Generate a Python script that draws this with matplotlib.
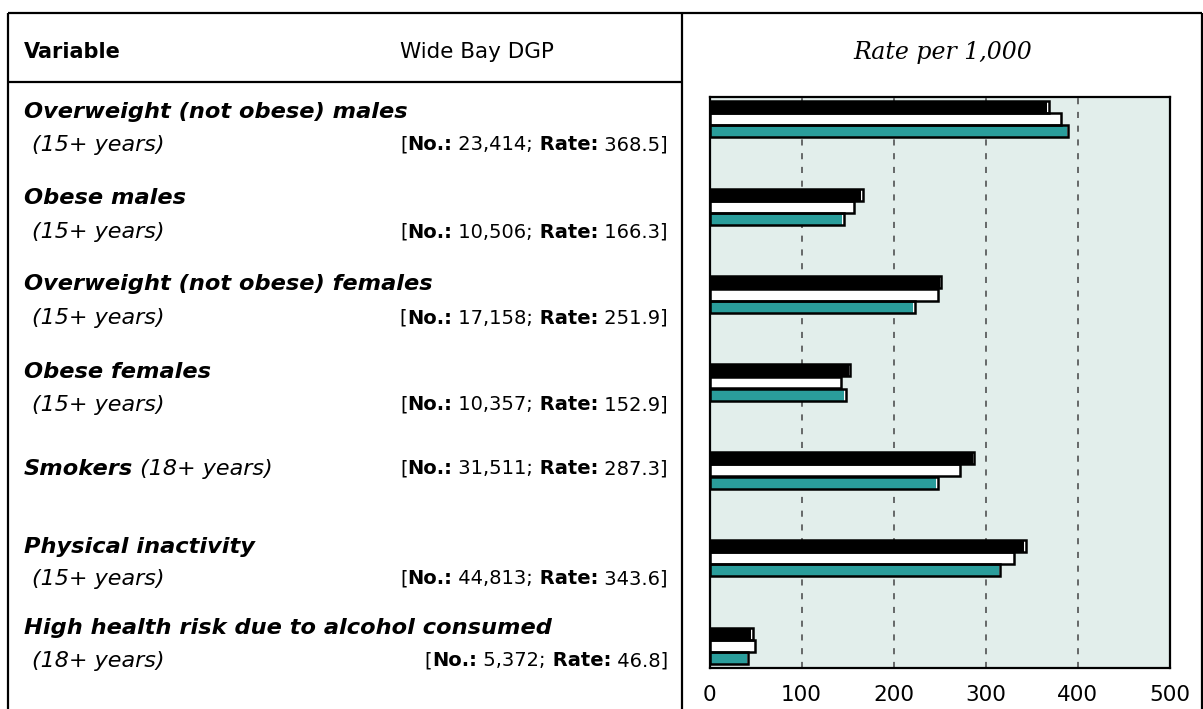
import matplotlib.pyplot as plt
from matplotlib.patches import Rectangle

# data
labels = ["Overweight (not obese) males", "Obese males", "Overweight (not obese) females",
          "Obese females", "Smokers", "Physical inactivity",
          "High health risk due to alcohol consumed"]
ages = ["(15+ years)", "(15+ years)", "(15+ years)", "(15+ years)", "(18+ years)",
        "(15+ years)", "(18+ years)"]
numbers = ["23,414", "10,506", "17,158", "10,357", "31,511", "44,813", "5,372"]
wide_bay = [368.5, 166.3, 251.9, 152.9, 287.3, 343.6, 46.8]
series_white = [381.6, 157.0, 248.4, 142.6, 271.6, 330.6, 49.4]
series_teal = [389.5, 146.0, 223.0, 147.8, 248.0, 315.4, 41.8]
xticks = [0, 100, 200, 300, 400, 500]

W, H = 1203, 709
fig = plt.figure(figsize=(W / 100, H / 100), dpi=100)

# overlay in pixel coords for the table
ov = fig.add_axes([0, 0, 1, 1])
ov.set_xlim(0, W)
ov.set_ylim(H, 0)
ov.axis("off")

lk = dict(color="black", lw=1.6, solid_capstyle="butt")
ov.plot([8, W - 1], [13, 13], **lk)
ov.plot([8, 8], [13, H], **lk)
ov.plot([W - 1, W - 1], [13, H], **lk)
ov.plot([682, 682], [13, H], **lk)
ov.plot([8, 682], [82, 82], **lk)

sans = "DejaVu Sans"
serif = "DejaVu Serif"

ov.text(24, 52, "Variable", fontsize=15, family=sans, fontweight="bold", va="center")
ov.text(400, 52, "Wide Bay DGP", fontsize=15.5, family=sans, va="center")
ov.text(943, 52, "Rate per 1,000", fontsize=17, family=serif, style="italic",
        va="center", ha="center")

fig.canvas.draw()
renderer = fig.canvas.get_renderer()


def rich(x, y, parts, ha="left"):
    items = []
    for s, kw in parts:
        t = ov.text(0, y, s, va="center", **kw)
        w = t.get_window_extent(renderer).width
        items.append((t, w))
    total = sum(w for _, w in items)
    cx = x - total if ha == "right" else x
    for t, w in items:
        t.set_x(cx)
        cx += w


lab_kw = dict(fontsize=16.2, family=sans, style="italic", fontweight="bold")
age_kw = dict(fontsize=16, family=sans, style="italic")
reg_kw = dict(fontsize=14, family=sans)
bold_kw = dict(fontsize=14, family=sans, fontweight="bold")

line1_y = [112, 198, 284, 372, 469, 547, 628]
line2_y = [145, 232, 318, 405, 469, 579, 661]

for i in range(len(labels)):
    if labels[i] == "Smokers":
        rich(24, line1_y[i], [(labels[i], lab_kw), (" " + ages[i], age_kw)])
    else:
        ov.text(24, line1_y[i], labels[i], va="center", **lab_kw)
        ov.text(32, line2_y[i], ages[i], va="center", **age_kw)
    rich(668, line2_y[i], [("[", reg_kw), ("No.:", bold_kw), (" " + numbers[i] + ";", reg_kw),
                           (" Rate:", bold_kw), (" %.1f]" % wide_bay[i], reg_kw)], ha="right")

# chart
ax = fig.add_axes([709.5 / W, (H - 668) / H, (1170 - 709.5) / W, (668 - 97) / H])
ax.set_facecolor("#e2eeeb")
ax.set_xlim(0, 500)
ax.set_ylim(len(labels) - 0.75, -0.25)

h = 0.136
off = 0.139
gap = 1.6
for vals, col, d in [(wide_bay, "black", -off), (series_white, "white", 0), (series_teal, "#2a9d9b", off)]:
    for i, v in enumerate(vals):
        y = i + d
        ax.add_patch(Rectangle((0, y - h / 2), v, h, facecolor="white", edgecolor="none", zorder=2))
        ax.add_patch(Rectangle((0, y - h / 2), v - gap, h, facecolor=col, edgecolor="none", zorder=3))
        ax.add_patch(Rectangle((0, y - h / 2), v, h, facecolor="none", edgecolor="black", lw=1.8, zorder=4))

ax.set_xticks(xticks)
ax.set_yticks([])
ax.tick_params(axis="x", length=0, pad=12, labelsize=15.5)
for lab in ax.get_xticklabels():
    lab.set_family(sans)
ax.xaxis.grid(True, linestyle=(0, (4, 5)), color="#444444", lw=1.1)
ax.set_axisbelow(True)
for sp in ax.spines.values():
    sp.set_linewidth(1.6)
    sp.set_zorder(5)

fig.savefig("out.png", dpi=100)
